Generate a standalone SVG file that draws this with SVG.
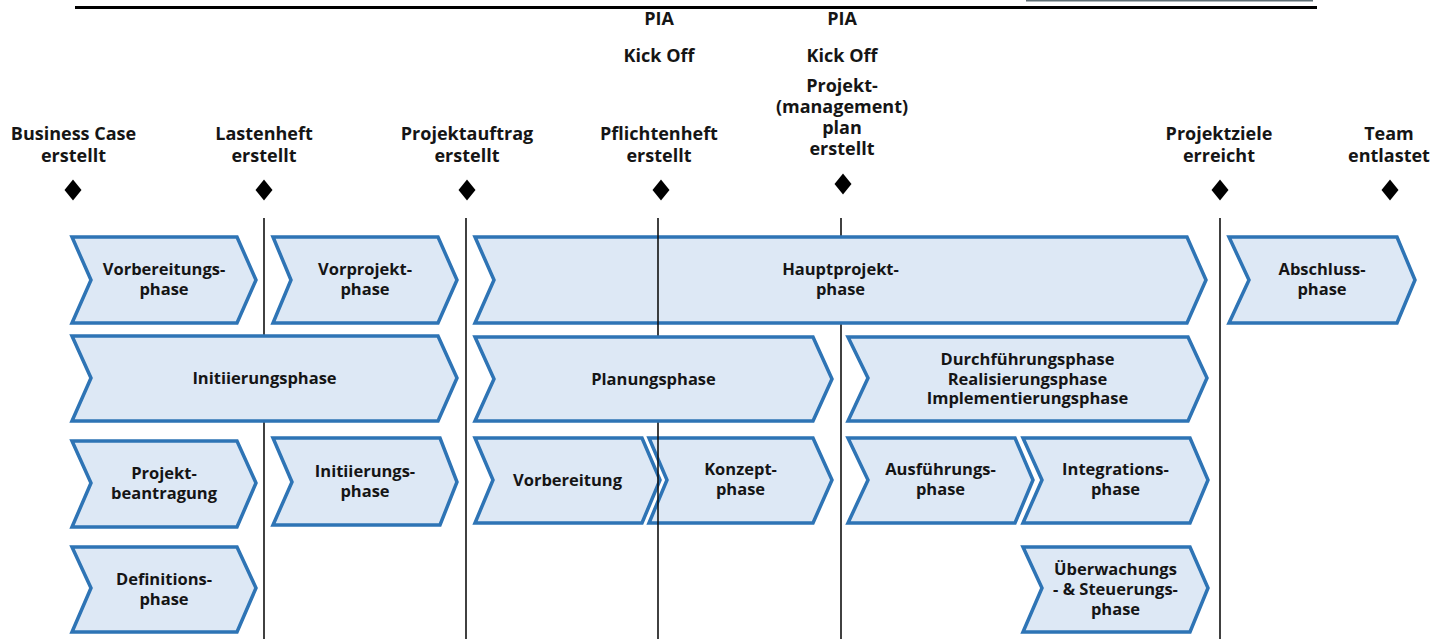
<svg xmlns="http://www.w3.org/2000/svg" width="1447" height="639" viewBox="0 0 1447 639">
<style>
.ch{fill:#dde8f5;stroke:#2e74b5;stroke-width:3.5;stroke-linejoin:miter}
.t{font-family:"Open Sans","Liberation Sans",sans-serif;font-weight:bold;font-size:16.5px;fill:#151515;text-anchor:middle}
.m{font-family:"Open Sans","Liberation Sans",sans-serif;font-weight:bold;font-size:18px;fill:#151515;text-anchor:middle}
.vl{stroke:#111;stroke-width:1.6}
.dm{fill:#000}
</style>
<rect width="1447" height="639" fill="#fff"/>
<g id="header">
<line x1="1026" y1="0.7" x2="1313" y2="0.7" stroke="#5f6f75" stroke-width="1.6"/>
<line x1="75" y1="7.5" x2="1317" y2="7.5" stroke="#000" stroke-width="3"/>
</g>
<g id="timelines">
<line class="vl" x1="264" y1="218" x2="264" y2="639"/>
<line class="vl" x1="466" y1="218" x2="466" y2="639"/>
<line class="vl" x1="841" y1="218" x2="841" y2="639"/>
<line class="vl" x1="1220" y1="218" x2="1220" y2="639"/>
</g>
<g id="milestones">
<g id="ms-business-case"><text class="m" x="73.5" y="140">Business Case</text><text class="m" x="73.5" y="162">erstellt</text><path class="dm" d="M73 179.5 L81.5 190 L73 200.5 L64.5 190 Z"/></g>
<g id="ms-lastenheft"><text class="m" x="264" y="140">Lastenheft</text><text class="m" x="264" y="162">erstellt</text><path class="dm" d="M264 179.5 L272.5 190 L264 200.5 L255.5 190 Z"/></g>
<g id="ms-projektauftrag"><text class="m" x="467" y="140">Projektauftrag</text><text class="m" x="467" y="162">erstellt</text><path class="dm" d="M467 179.5 L475.5 190 L467 200.5 L458.5 190 Z"/></g>
<g id="ms-pflichtenheft"><text class="m" x="659" y="25">PIA</text><text class="m" x="659" y="62">Kick Off</text><text class="m" x="659" y="140">Pflichtenheft</text><text class="m" x="659" y="162">erstellt</text><path class="dm" d="M661 179.5 L669.5 190 L661 200.5 L652.5 190 Z"/></g>
<g id="ms-pm-plan"><text class="m" x="842" y="25">PIA</text><text class="m" x="842" y="62">Kick Off</text><text class="m" x="842" y="92">Projekt-</text><text class="m" x="842" y="113">(management)</text><text class="m" x="842" y="134">plan</text><text class="m" x="842" y="155">erstellt</text><path class="dm" d="M843 173.5 L851.5 184 L843 194.5 L834.5 184 Z"/></g>
<g id="ms-projektziele"><text class="m" x="1219" y="140">Projektziele</text><text class="m" x="1219" y="162">erreicht</text><path class="dm" d="M1220 179.5 L1228.5 190 L1220 200.5 L1211.5 190 Z"/></g>
<g id="ms-team"><text class="m" x="1389" y="140">Team</text><text class="m" x="1389" y="162">entlastet</text><path class="dm" d="M1390 179.5 L1398.5 190 L1390 200.5 L1381.5 190 Z"/></g>
</g>
<g id="vorbereitungsphase"><path class="ch" d="M72 237 L237 237 L256 280 L237 323 L72 323 L91 280 Z"/><text class="t" x="164" y="275">Vorbereitungs-</text><text class="t" x="164" y="295">phase</text></g>
<g id="vorprojektphase"><path class="ch" d="M273 237 L438 237 L457 280 L438 323 L273 323 L291 280 Z"/><text class="t" x="365" y="275">Vorprojekt-</text><text class="t" x="365" y="295">phase</text></g>
<g id="hauptprojektphase"><path class="ch" d="M475 237 L1187 237 L1206 280 L1187 323 L475 323 L494 280 Z"/><text class="t" x="840.5" y="275">Hauptprojekt-</text><text class="t" x="840.5" y="295">phase</text></g>
<g id="abschlussphase"><path class="ch" d="M1229 237 L1397 237 L1415 280 L1397 323 L1229 323 L1249 280 Z"/><text class="t" x="1322" y="275">Abschluss-</text><text class="t" x="1322" y="295">phase</text></g>
<g id="initiierungsphase"><path class="ch" d="M72 336 L438 336 L457 378 L438 421 L72 421 L91 378 Z"/><text class="t" x="264.5" y="384">Initiierungsphase</text></g>
<g id="durchfuehrungsphase"><path class="ch" d="M848 337 L1188 337 L1207 378 L1188 421 L848 421 L868 378 Z"/><text class="t" x="1027.5" y="365">Durchführungsphase</text><text class="t" x="1027.5" y="384.5">Realisierungsphase</text><text class="t" x="1027.5" y="404">Implementierungsphase</text></g>
<g id="projektbeantragung"><path class="ch" d="M72 441 L237 441 L256 483 L237 527 L72 527 L91 483 Z"/><text class="t" x="164" y="479">Projekt-</text><text class="t" x="164" y="499">beantragung</text></g>
<g id="initiierungs-phase"><path class="ch" d="M273 438 L440 438 L457 482 L440 525 L273 525 L292 482 Z"/><text class="t" x="365" y="477">Initiierungs-</text><text class="t" x="365" y="497">phase</text></g>
<g id="definitionsphase"><path class="ch" d="M72 547 L237 547 L256 588 L237 632 L72 632 L91 588 Z"/><text class="t" x="164" y="585">Definitions-</text><text class="t" x="164" y="605">phase</text></g>
<g id="vorbereitung"><path class="ch" d="M475 438 L642 438 L660 480 L642 523 L475 523 L493 480 Z"/><text class="t" x="567.5" y="486">Vorbereitung</text></g>
<g id="konzeptphase"><path class="ch" d="M649 438 L813 438 L832 480 L813 523 L649 523 L667 480 Z"/><text class="t" x="740.5" y="475">Konzept-</text><text class="t" x="740.5" y="495">phase</text></g>
<g id="ausfuehrungsphase"><path class="ch" d="M848 438 L1015 438 L1033 480 L1015 523 L848 523 L868 480 Z"/><text class="t" x="940.5" y="475">Ausführungs-</text><text class="t" x="940.5" y="495">phase</text></g>
<g id="integrationsphase"><path class="ch" d="M1023 438 L1190 438 L1208 480 L1190 523 L1023 523 L1042 480 Z"/><text class="t" x="1115.5" y="475">Integrations-</text><text class="t" x="1115.5" y="495">phase</text></g>
<g id="ueberwachungsphase"><path class="ch" d="M1023 547 L1190 547 L1208 588 L1190 632 L1023 632 L1042 588 Z"/><text class="t" x="1115.5" y="575">Überwachungs</text><text class="t" x="1115.5" y="595">- &amp; Steuerungs-</text><text class="t" x="1115.5" y="615">phase</text></g>
<g id="timeline-kickoff"><line class="vl" x1="658" y1="218" x2="658" y2="639"/></g>
<g id="planungsphase"><path class="ch" d="M475 337 L813 337 L832 379 L813 421 L475 421 L494 379 Z"/><text class="t" x="653.5" y="385">Planungsphase</text></g>
</svg>
